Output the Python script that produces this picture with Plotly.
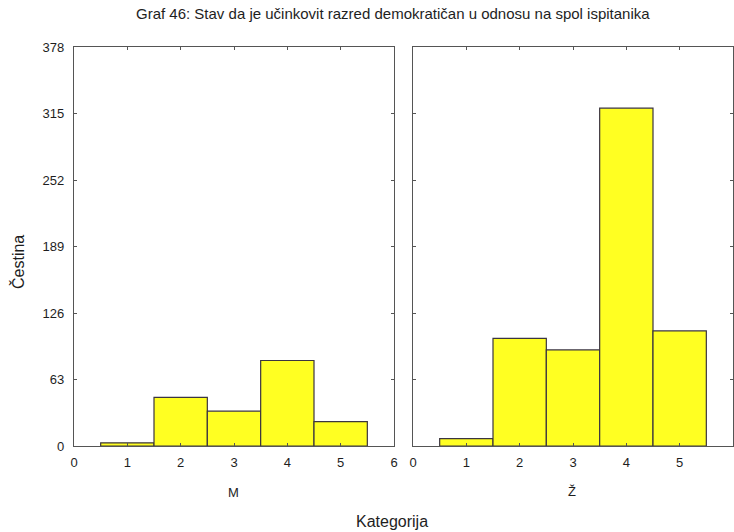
import plotly.graph_objects as go

categories = [1, 2, 3, 4, 5]
values_m = [3, 46, 33, 81, 23]
values_z = [7, 102, 91, 320, 109]
y_ticks = [0, 63, 126, 189, 252, 315, 378]
x_ticks = [0, 1, 2, 3, 4, 5, 6]
title_text = "Graf 46: Stav da je učinkovit razred demokratičan u odnosu na spol ispitanika"
panel_labels = ["M", "Ž"]
x_title = "Kategorija"
y_title = "Čestina"

W, H = 734, 532
FONT = "Liberation Sans, Arial, sans-serif"
BAR_FILL = "#ffff22"
BAR_LINE = "#3b3540"
AX_LINE = "#555555"
TXT = "#1e1e1e"

def fx(px):
    return px / W

def fy(py):
    return 1 - py / H

fig = go.Figure()
fig.add_trace(go.Bar(x=categories, y=values_m, width=1, xaxis="x", yaxis="y",
                     marker=dict(color=BAR_FILL, line=dict(color=BAR_LINE, width=1.2)),
                     showlegend=False, hoverinfo="skip"))
fig.add_trace(go.Bar(x=categories, y=values_z, width=1, xaxis="x2", yaxis="y2",
                     marker=dict(color=BAR_FILL, line=dict(color=BAR_LINE, width=1.2)),
                     showlegend=False, hoverinfo="skip"))

xcommon = dict(range=[0, 6], tickvals=x_ticks, ticktext=[str(t) for t in x_ticks],
               showgrid=False, zeroline=False, showline=True, linecolor=AX_LINE, linewidth=1.2,
               mirror="ticks", ticks="inside", ticklen=3, tickcolor=AX_LINE, automargin=False,
               ticklabelstandoff=4,
               tickfont=dict(family=FONT, size=13, color=TXT))
ycommon = dict(range=[0, 378], tickvals=y_ticks, showgrid=False, zeroline=False,
               showline=True, linecolor=AX_LINE, linewidth=1.2, mirror="ticks",
               ticks="inside", ticklen=3, tickcolor=AX_LINE, automargin=False,
               ticklabelstandoff=6,
               tickfont=dict(family=FONT, size=13, color=TXT))

def ann(text, px, py, size=12, angle=0):
    return dict(text=text, x=fx(px), y=fy(py), xref="paper", yref="paper",
                xanchor="center", yanchor="middle", textangle=angle,
                showarrow=False, font=dict(family=FONT, size=size, color=TXT))

fig.update_layout(
    template="simple_white",
    width=W, height=H,
    margin=dict(l=0, r=0, t=0, b=0, pad=0, autoexpand=False),
    paper_bgcolor="white", plot_bgcolor="white",
    bargap=0,
    xaxis=dict(domain=[fx(74), fx(394)], anchor="y", **xcommon),
    xaxis2=dict(domain=[fx(413), fx(733)], anchor="y2", **xcommon),
    yaxis=dict(domain=[fy(446), fy(47)], anchor="x", **ycommon),
    yaxis2=dict(domain=[fy(446), fy(47)], anchor="x2", showticklabels=False, **ycommon),
    annotations=[
        ann(title_text, 393, 14, 15),
        ann(panel_labels[0], 233, 492, 13),
        ann(panel_labels[1], 572, 491, 13),
        ann(x_title, 392, 521, 16),
        ann(y_title, 18, 262, 16, -90),
    ],
)

fig.write_html("out.html", config={"displayModeBar": False, "staticPlot": True},
               post_script="document.body.style.margin='0';document.body.style.overflow='hidden';")
